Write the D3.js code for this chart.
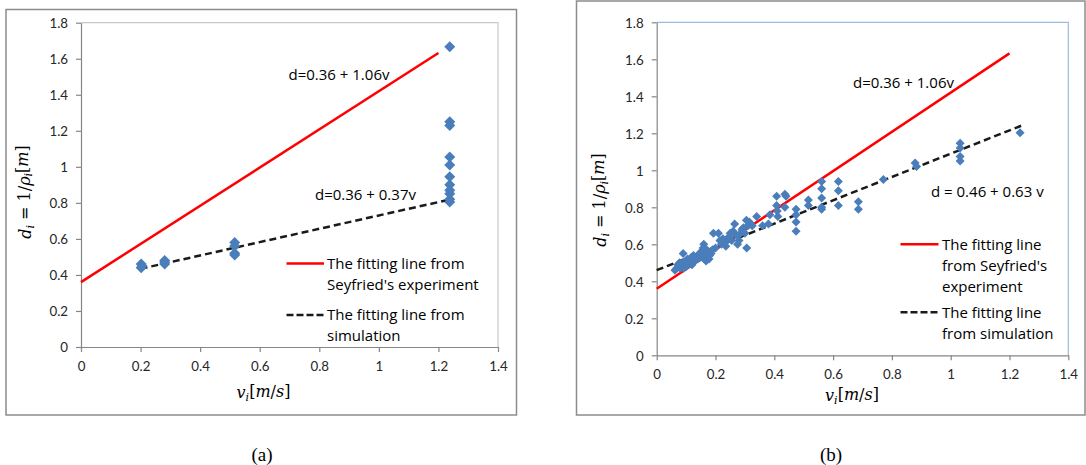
<!DOCTYPE html>
<html><head><meta charset="utf-8">
<script src="https://cdn.jsdelivr.net/npm/d3@7"></script>
<style>body{margin:0;background:#fff;} svg{display:block}</style>
</head><body>
<svg id="chart" width="1086" height="465"></svg>
<script>
// ---------- data ----------
const xTickValues = [0, 0.2, 0.4, 0.6, 0.8, 1, 1.2, 1.4];
const xTickLabels = ["0", "0.2", "0.4", "0.6", "0.8", "1", "1.2", "1.4"];
const yTickValues = [0, 0.2, 0.4, 0.6, 0.8, 1, 1.2, 1.4, 1.6, 1.8];
const yTickLabels = ["0", "0.2", "0.4", "0.6", "0.8", "1", "1.2", "1.4", "1.6", "1.8"];

// panel (a): simulation points
const leftV = [0.202, 0.202, 0.205, 0.281, 0.281, 0.281, 0.516, 0.516, 0.516, 0.516,
  1.238, 1.238, 1.238, 1.238, 1.238, 1.238, 1.238, 1.238, 1.238, 1.238, 1.238];
const leftD = [0.44, 0.46, 0.45, 0.46, 0.48, 0.47, 0.58, 0.56, 0.52, 0.51,
  1.667, 1.25, 1.23, 1.055, 1.01, 0.945, 0.90, 0.87, 0.85, 0.82, 0.805];

// panel (b): simulation points
const rightV = [0.062, 0.068, 0.072, 0.075, 0.078, 0.080, 0.085, 0.088, 0.090, 0.092, 0.095, 0.098,
  0.100, 0.102, 0.105, 0.108, 0.110, 0.115, 0.118, 0.120, 0.125, 0.128, 0.130, 0.135, 0.140,
  0.145, 0.150, 0.152, 0.155, 0.158, 0.160, 0.162, 0.165, 0.168, 0.170, 0.172, 0.175, 0.178,
  0.180, 0.185, 0.190, 0.193,
  0.200, 0.210, 0.215, 0.220, 0.225, 0.230, 0.235, 0.240, 0.245, 0.250, 0.255, 0.260, 0.265,
  0.270, 0.275, 0.280, 0.285, 0.290, 0.295, 0.300, 0.305, 0.306, 0.310, 0.315, 0.320, 0.325,
  0.340, 0.360, 0.380, 0.385,
  0.408, 0.408, 0.410, 0.412, 0.436, 0.440, 0.436, 0.474, 0.474, 0.474, 0.474, 0.516, 0.516,
  0.561, 0.561, 0.561, 0.561, 0.561, 0.618, 0.618, 0.618, 0.686, 0.686, 0.771, 0.879, 0.884,
  1.032, 1.032, 1.032, 1.032, 1.236];
const rightD = [0.46, 0.47, 0.49, 0.48, 0.50, 0.47, 0.48, 0.50, 0.55, 0.47, 0.49, 0.51,
  0.48, 0.50, 0.52, 0.49, 0.51, 0.50, 0.53, 0.49, 0.54, 0.51, 0.52, 0.53, 0.52,
  0.55, 0.53, 0.56, 0.54, 0.58, 0.60, 0.52, 0.55, 0.51, 0.57, 0.53, 0.56, 0.52,
  0.54, 0.55, 0.57, 0.66,
  0.58, 0.66, 0.62, 0.60, 0.63, 0.61, 0.59, 0.62, 0.64, 0.66, 0.62, 0.67, 0.71,
  0.65, 0.60, 0.62, 0.66, 0.68, 0.69, 0.66, 0.73, 0.58, 0.70, 0.72, 0.71, 0.70,
  0.75, 0.70, 0.71, 0.76,
  0.86, 0.81, 0.78, 0.75, 0.87, 0.86, 0.80, 0.79, 0.76, 0.72, 0.67, 0.84, 0.81,
  0.94, 0.90, 0.85, 0.80, 0.79, 0.94, 0.89, 0.81, 0.83, 0.79, 0.95, 1.04, 1.02,
  1.146, 1.12, 1.074, 1.05, 1.203];

// fitting lines (end points)
const seyfriedV = [0, 1.2];
const seyfriedD = [0.36, 1.632];
const simLeftV = [0.2, 1.24];
const simLeftD = [0.434, 0.819];
const simRightV = [0, 1.24];
const simRightD = [0.46, 1.241];

const eqLeftTop = "d=0.36 + 1.06v";
const eqLeftBottom = "d=0.36 + 0.37v";
const eqRightTop = "d=0.36 + 1.06v";
const eqRightBottom = "d = 0.46 + 0.63 v";
const legendLeftRed = ["The fitting line from", "Seyfried's experiment"];
const legendLeftBlack = ["The fitting line from", "simulation"];
const legendRightRed = ["The fitting line", "from Seyfried's", "experiment"];
const legendRightBlack = ["The fitting line", "from simulation"];

// ---------- drawing ----------
const svg = d3.select("#chart");
const SANS = "'Open Sans', 'Noto Sans', sans-serif";
const TICK = "Lato, 'Open Sans', sans-serif";
const SERIF = "'DejaVu Serif', 'Liberation Serif', serif";
const BLUE = "#4a7ebb";

function diamond(r) { return `M0,${-r}L${r},0L0,${r}L${-r},0Z`; }

function drawPanel(c) {
  const g = svg.append("g");
  // outer frame
  g.append("rect").attr("x", c.box[0]).attr("y", c.box[1])
    .attr("width", c.box[2] - c.box[0]).attr("height", c.box[3] - c.box[1])
    .attr("fill", "none").attr("stroke", "#8c8c8c").attr("stroke-width", 1.5);

  const x = d3.scaleLinear().domain([0, 1.4]).range([c.x0, c.x1]);
  const y = d3.scaleLinear().domain([0, 1.8]).range([c.y0, c.y1]);

  // plot area top/right border
  g.append("path").attr("d", `M${c.x0},${c.y1}H${c.x1}V${c.y0}`)
    .attr("fill", "none").attr("stroke", c.frame).attr("stroke-width", 1.2);

  const xa = g.append("g").attr("transform", `translate(0,${c.y0})`)
    .call(d3.axisBottom(x).tickValues(xTickValues).tickSize(5).tickSizeOuter(0)
      .tickFormat((d, i) => xTickLabels[i]));
  const ya = g.append("g").attr("transform", `translate(${c.x0},0)`)
    .call(d3.axisLeft(y).tickValues(yTickValues).tickSize(5).tickSizeOuter(0)
      .tickFormat((d, i) => yTickLabels[i]));
  [xa, ya].forEach(a => {
    a.select(".domain").attr("stroke", "#868686").attr("stroke-width", 1.2);
    a.selectAll(".tick line").attr("stroke", "#868686").attr("stroke-width", 1.2);
    a.selectAll(".tick text").attr("fill", "#262626")
      .style("font-family", TICK).style("font-size", "13.3px");
  });
  xa.selectAll(".tick text").attr("y", 19).attr("dy", "0.36em");
  ya.selectAll(".tick text").attr("x", -13).attr("dy", "0.36em");

  // fitting lines
  const line = d3.line().x(d => x(d[0])).y(d => y(d[1]));
  g.append("path").datum(d3.zip(seyfriedV, seyfriedD)).attr("d", line)
    .attr("fill", "none").attr("stroke", "#ff0000").attr("stroke-width", 2.5);
  g.append("path").datum(d3.zip(c.simV, c.simD)).attr("d", line)
    .attr("fill", "none").attr("stroke", "#1a1a1a").attr("stroke-width", 2.5)
    .attr("stroke-dasharray", "7,4");

  // points
  g.append("g").selectAll("path").data(d3.zip(c.ptsV, c.ptsD)).join("path")
    .attr("transform", d => `translate(${x(d[0])},${y(d[1])})`)
    .attr("d", diamond(c.r)).attr("fill", BLUE);

  // equations
  c.eqs.forEach(e => {
    g.append("text").attr("x", e.x).attr("y", e.y).attr("dy", "0.35em")
      .style("font-family", SANS).style("font-size", "15px").attr("fill", "#000")
      .text(e.t);
  });

  // legend
  c.legend.forEach(L => {
    g.append("line").attr("x1", L.lx0).attr("x2", L.lx1).attr("y1", L.y).attr("y2", L.y)
      .attr("stroke", L.color).attr("stroke-width", 2.5)
      .attr("stroke-dasharray", L.dash ? "7,3" : null);
    L.lines.forEach((t, i) => {
      g.append("text").attr("x", L.tx).attr("y", L.y + i * c.lh).attr("dy", "0.35em")
        .style("font-family", SANS).style("font-size", "15px").attr("fill", "#000").text(t);
    });
  });

  // x title  v_i[m/s]
  const xt = g.append("text").attr("x", c.xt[0]).attr("y", c.xt[1]).attr("dy", "0.3em")
    .attr("text-anchor", "middle").style("font-family", SERIF).style("font-size", "16px").attr("fill", "#000");
  xt.append("tspan").style("font-style", "italic").text("v");
  xt.append("tspan").style("font-style", "italic").style("font-size", "11px").attr("dy", "0.25em").text("i");
  xt.append("tspan").attr("dy", "-0.25em").text("[");
  xt.append("tspan").style("font-style", "italic").text("m");
  xt.append("tspan").text("/");
  xt.append("tspan").style("font-style", "italic").text("s");
  xt.append("tspan").text("]");

  // y title  d_i = 1/rho_i[m]
  const yt = g.append("text").attr("transform", `translate(${c.yt[0]},${c.yt[1]}) rotate(-90)`)
    .attr("dy", "0.3em").attr("text-anchor", "middle")
    .style("font-family", SERIF).style("font-size", "16px").attr("fill", "#000");
  yt.append("tspan").style("font-style", "italic").text("d");
  yt.append("tspan").style("font-style", "italic").style("font-size", "11px").attr("dy", "0.25em").text("i");
  yt.append("tspan").attr("dy", "-0.25em").text(" = 1/");
  yt.append("tspan").style("font-style", "italic").text("ρ");
  yt.append("tspan").style("font-style", "italic").style("font-size", "11px").attr("dy", "0.25em").text("i");
  yt.append("tspan").attr("dy", "-0.25em").text("[");
  yt.append("tspan").style("font-style", "italic").text("m");
  yt.append("tspan").text("]");

  // caption
  svg.append("text").attr("x", c.cap[0]).attr("y", c.cap[1]).attr("dy", "0.35em")
    .attr("text-anchor", "middle").style("font-family", "'Liberation Serif', serif")
    .style("font-size", "19px").attr("fill", "#000").text(c.cap[2]);
}

drawPanel({
  box: [6, 9.5, 516.5, 415], x0: 81, x1: 498, y0: 347, y1: 22.7, frame: "#c8c8c8",
  simV: simLeftV, simD: simLeftD, ptsV: leftV, ptsD: leftD, r: 5.5,
  eqs: [{ x: 288.5, y: 75, t: eqLeftTop }, { x: 315, y: 195, t: eqLeftBottom }],
  lh: 21,
  legend: [
    { lx0: 286.5, lx1: 324, tx: 327, y: 263.5, color: "#ff0000", dash: false, lines: legendLeftRed },
    { lx0: 286.5, lx1: 324, tx: 327, y: 315, color: "#1a1a1a", dash: true, lines: legendLeftBlack }
  ],
  xt: [263.5, 393], yt: [26, 192], cap: [262, 454, "(a)"]
});

drawPanel({
  box: [576.5, 1, 1085, 415], x0: 656.7, x1: 1068.3, y0: 355.3, y1: 22.3, frame: "#9bbbe0",
  simV: simRightV, simD: simRightD, ptsV: rightV, ptsD: rightD, r: 4.5,
  eqs: [{ x: 853, y: 83, t: eqRightTop }, { x: 931, y: 191.7, t: eqRightBottom }],
  lh: 21.2,
  legend: [
    { lx0: 900.5, lx1: 938.5, tx: 942, y: 244.3, color: "#ff0000", dash: false, lines: legendRightRed },
    { lx0: 900.5, lx1: 938.5, tx: 942, y: 312.3, color: "#1a1a1a", dash: true, lines: legendRightBlack }
  ],
  xt: [852, 396.5], yt: [601.5, 200], cap: [831, 454, "(b)"]
});
</script>
</body></html>
